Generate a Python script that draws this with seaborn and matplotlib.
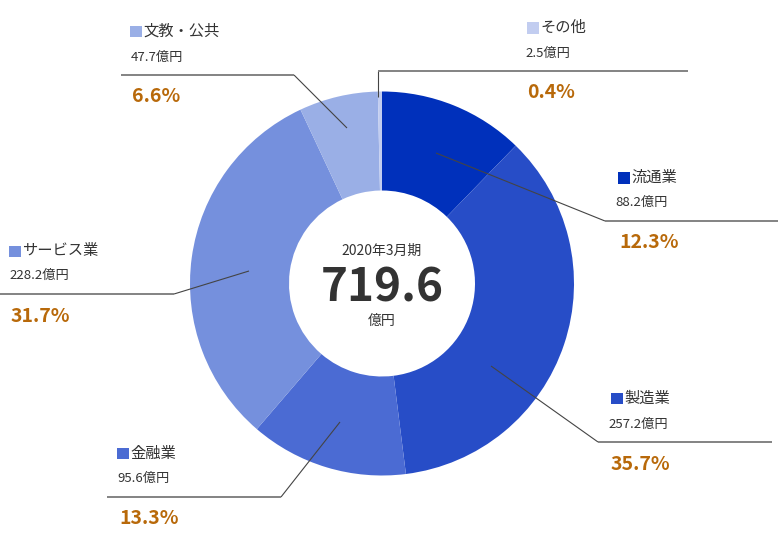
import matplotlib
matplotlib.use('Agg')
import matplotlib.pyplot as plt
from matplotlib.patches import Rectangle
import seaborn as sns

# data (2020年3月期, 億円)
categories = ['流通業', '製造業', '金融業', 'サービス業', '文教・公共', 'その他']
amounts = [88.2, 257.2, 95.6, 228.2, 47.7, 2.5]
amount_labels = ['88.2億円', '257.2億円', '95.6億円', '228.2億円', '47.7億円', '2.5億円']
shares = ['12.3%', '35.7%', '13.3%', '31.7%', '6.6%', '0.4%']
total_label = '719.6'
period_label = '2020年3月期'

colors = sns.color_palette(['#0030BB', '#274DC7', '#4B6BD3', '#7590DD', '#9AAFE6', '#C2CDF0'])

sns.set_theme(style='white')
plt.rcParams['font.family'] = ['Noto Sans CJK JP', 'DejaVu Sans']

W, H = 780, 546
fig = plt.figure(figsize=(W / 100, H / 100), dpi=100)
ax = fig.add_axes([0, 0, 1, 1])

def Y(y):
    # pixel row -> data y
    return H - y

cx, cy = 382, Y(283.5)
ax.pie(amounts, colors=colors, startangle=90, counterclock=False,
       radius=192, center=(cx, cy), frame=True,
       wedgeprops=dict(width=99, linewidth=0))

# label layout (pixels): square/label, amount, percent, leader line
layout = {
    '流通業':     dict(sq=(618, 177.5), amt=(615, 202), pct=(619, 243), start=(436, 153), elbow=(605, 221), end=778),
    '製造業':     dict(sq=(611, 398), amt=(608, 424), pct=(611, 464), start=(491, 366), elbow=(598, 442), end=772),
    '金融業':     dict(sq=(117, 453), amt=(117, 478), pct=(119, 518), start=(340, 422), elbow=(281, 497), end=107),
    'サービス業': dict(sq=(9, 251), amt=(9, 275), pct=(11, 317), start=(249, 271), elbow=(174, 294), end=0),
    '文教・公共': dict(sq=(130, 31), amt=(131, 57), pct=(132, 97), start=(347, 128), elbow=(294, 75), end=121),
    'その他':     dict(sq=(527, 27.5), amt=(525, 53), pct=(527, 93), start=(378, 97), elbow=(378, 71), end=688),
}

pct_color = '#B8690A'
for cat, amt, share, col in zip(categories, amount_labels, shares, colors):
    L = layout[cat]
    sx, sy = L['sq']
    ax.add_patch(Rectangle((sx, Y(sy) - 6), 11.5, 11.5, color=col, linewidth=0))
    ax.text(sx + 13, Y(sy), cat, fontsize=11, color='#333333', va='center', ha='left')
    ax.text(L['amt'][0], Y(L['amt'][1]), amt, fontsize=9.5, color='#333333', va='center', ha='left')
    ax.text(L['pct'][0], Y(L['pct'][1]), share, fontsize=14, fontweight='bold',
            color=pct_color, va='center', ha='left')
    (x0, y0), (x1, y1) = L['start'], L['elbow']
    ax.plot([x0, x1], [Y(y0), Y(y1)], color='#444444', linewidth=0.8, solid_capstyle='butt')
    ax.plot([x1, L['end']], [Y(y1), Y(y1)], color='#7a7a7a', linewidth=1.3, solid_capstyle='butt')

# centre labels
ax.text(cx, Y(251), period_label, fontsize=10, color='#333333', ha='center', va='center')
ax.text(cx, Y(288), total_label, fontsize=33, fontweight='bold', color='#333333', ha='center', va='center')
ax.text(cx, Y(321), '億円', fontsize=10, color='#333333', ha='center', va='center')

ax.set_xlim(0, W)
ax.set_ylim(0, H)
ax.set_aspect('equal')
ax.axis('off')

fig.savefig('out.png', dpi=100, facecolor='white')
